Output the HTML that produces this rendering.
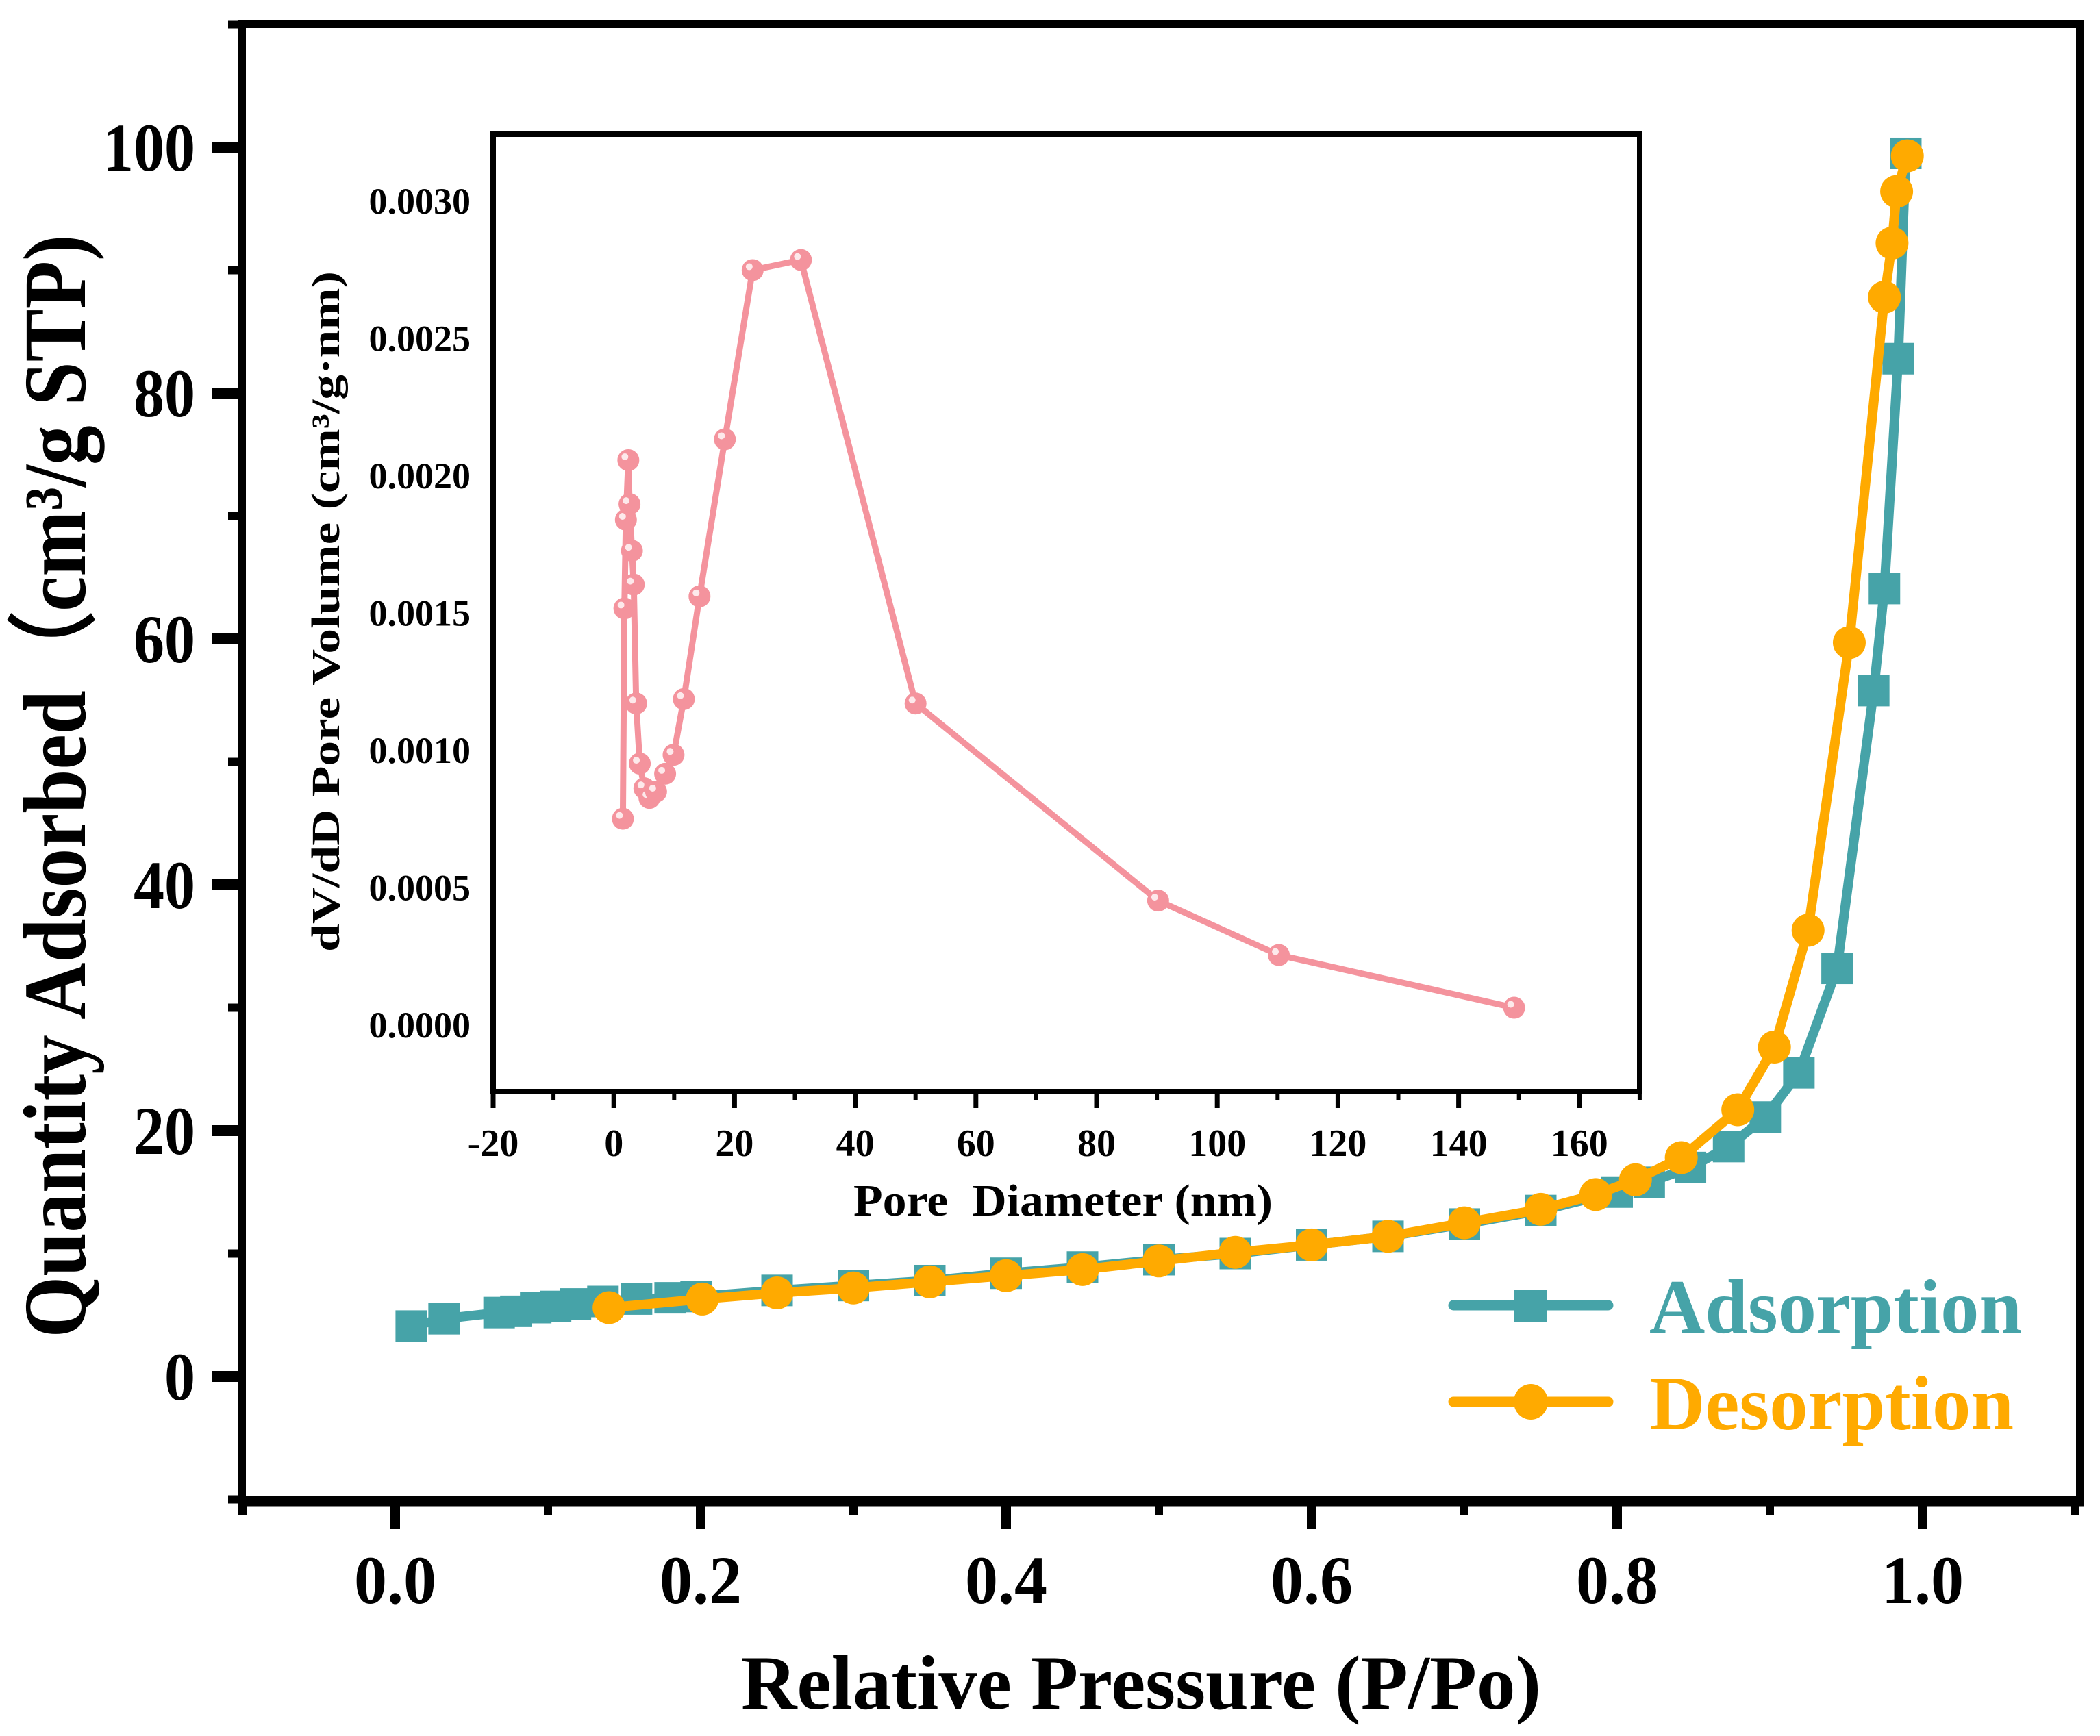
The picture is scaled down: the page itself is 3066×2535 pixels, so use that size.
<!DOCTYPE html>
<html><head><meta charset="utf-8"><style>
html,body{margin:0;padding:0;background:#fff}
svg{display:block}
text{font-family:"Liberation Serif",serif;font-weight:bold}
</style></head><body>
<svg id="chart" width="3066" height="2535" viewBox="0 0 3066 2535" xmlns="http://www.w3.org/2000/svg">
<g id="main-marks"></g><g id="inset"></g><g id="frames"></g><g id="labels"></g>
</svg>
<script>
// Main chart data
const adsX = [0.0105,0.032,0.068,0.079,0.092,0.105,0.118,0.136,0.158,0.180,0.197,0.25,0.30,0.35,0.40,0.45,0.50,0.55,0.60,0.65,0.70,0.75,0.80,0.821,0.848,0.873,0.897,0.919,0.944,0.968,0.975,0.984,0.989];
const adsY = [4.1,4.7,5.2,5.3,5.6,5.7,5.9,6.1,6.3,6.4,6.5,7.0,7.4,7.8,8.4,8.9,9.5,10.0,10.7,11.4,12.4,13.5,15.0,15.8,17.0,18.7,21.1,24.7,33.2,55.8,64.1,82.8,99.5];
const desX = [0.140,0.201,0.25,0.30,0.35,0.40,0.45,0.50,0.55,0.60,0.65,0.70,0.75,0.786,0.812,0.842,0.879,0.903,0.925,0.952,0.975,0.980,0.983,0.990];
const desY = [5.6,6.3,6.8,7.2,7.7,8.2,8.7,9.4,10.1,10.7,11.4,12.5,13.6,14.8,16.0,17.8,21.7,26.8,36.3,59.7,87.8,92.2,96.4,99.3];
const xTicks = ["0.0","0.2","0.4","0.6","0.8","1.0"];
const yTicks = ["0","20","40","60","80","100"];
// Inset data
const poreD = [1.5,1.75,2.0,2.4,2.6,3.0,3.3,3.7,4.3,5.06,5.9,7.0,8.5,9.9,11.6,14.2,18.4,23.0,31.0,50.0,90.2,110.2,149.2];
const poreV = [0.000749,0.001515,0.001838,0.002055,0.001895,0.001725,0.001602,0.001169,0.00095,0.00086,0.000825,0.000848,0.000913,0.000982,0.001185,0.001559,0.002131,0.002747,0.002784,0.001169,0.000451,0.000253,0.000061];
const insetXTicks = ["-20","0","20","40","60","80","100","120","140","160"];
const insetYTicks = ["0.0000","0.0005","0.0010","0.0015","0.0020","0.0025","0.0030"];

const NS="http://www.w3.org/2000/svg";
function mk(tag,attrs,parent,txt){const e=document.createElementNS(NS,tag);for(const k in attrs)e.setAttribute(k,attrs[k]);if(txt!==undefined)e.textContent=txt;parent.appendChild(e);return e;}
const X=v=>577+(v-0)*2230;
const Y=v=>2010-v*17.95;
const IX=v=>720+(v+20)*8.81;
const IY=v=>1496-v*401000;
const gm=document.getElementById('main-marks'), gi=document.getElementById('inset'), gf=document.getElementById('frames'), gl=document.getElementById('labels');
const TEAL="#46a3a8", ORANGE="#ffaa00", PINK="#f4939d";

let p=mk('polyline',{points:adsX.map((x,i)=>X(x)+','+Y(adsY[i])).join(' '),fill:'none',stroke:TEAL,'stroke-width':14,'stroke-linejoin':'round'},gm);

adsX.forEach((x,i)=>{const r=mk('rect',{x:X(x)-23,y:Y(adsY[i])-23,width:46,height:46,fill:TEAL},gm);

});
p=mk('polyline',{points:desX.map((x,i)=>X(x)+','+Y(desY[i])).join(' '),fill:'none',stroke:ORANGE,'stroke-width':14,'stroke-linejoin':'round'},gm);

desX.forEach((x,i)=>{const c=mk('circle',{cx:X(x),cy:Y(desY[i]),r:24,fill:ORANGE},gm);

});

mk('rect',{x:720,y:196,width:1674,height:1398,fill:'none',stroke:'#000','stroke-width':8},gi);
p=mk('polyline',{points:poreD.map((x,i)=>IX(x)+','+IY(poreV[i])).join(' '),fill:'none',stroke:PINK,'stroke-width':9,'stroke-linejoin':'round'},gi);

poreD.forEach((x,i)=>{const c=mk('circle',{cx:IX(x),cy:IY(poreV[i]),r:16,fill:PINK},gi);


mk('circle',{cx:IX(x)-5,cy:IY(poreV[i])-5,r:5,fill:'#fff',opacity:0.8},gi);});
insetXTicks.forEach((t,i)=>{const v=-20+i*20;const x=IX(v);
mk('line',{x1:x,y1:1594,x2:x,y2:1618,stroke:'#000','stroke-width':7},gi);
mk('line',{x1:IX(v+10),y1:1594,x2:IX(v+10),y2:1606,stroke:'#000','stroke-width':6},gi);
const tx=mk('text',{x:x,y:1688,'font-size':56,'text-anchor':'middle'},gi,t);
});
insetYTicks.forEach((t,i)=>{const v=i*0.0005;
const tx=mk('text',{x:687,y:IY(v)+19,'font-size':54,'text-anchor':'end'},gi,t);
});
let tt=mk('text',{x:1552,y:1775,'font-size':66,'text-anchor':'middle',textLength:612,lengthAdjust:'spacingAndGlyphs'},gi,'Pore\u00a0 Diameter (nm)');

tt=mk('text',{x:0,y:0,'font-size':58,'text-anchor':'middle',textLength:994,lengthAdjust:'spacingAndGlyphs',transform:'translate(495,893) rotate(-90)'},gi,'dV/dD Pore Volume (cm³/g·nm)');


mk('rect',{x:353,y:35,width:2684,height:2157,fill:'none',stroke:'#000','stroke-width':12},gf);
mk('line',{x1:347,y1:2192,x2:3043,y2:2192,stroke:'#000','stroke-width':15},gf);
for(let v=-0.1;v<=1.101;v+=0.1){const x=X(v);const major=Math.abs(Math.round(v*10)%2)===0;
mk('line',{x1:x,y1:2192,x2:x,y2:major?2233:2212,stroke:'#000','stroke-width':major?14:12},gf);}
for(let v=-10;v<=110;v+=10){const y=Y(v);const major=(v%20===0);
mk('line',{x1:major?310:333,y1:y,x2:353,y2:y,stroke:'#000','stroke-width':major?16:12},gf);}
xTicks.forEach((t,i)=>{const tx=mk('text',{x:X(i*0.2),y:2341,'font-size':100,'text-anchor':'middle',textLength:120,lengthAdjust:'spacingAndGlyphs'},gl,t);
});
yTicks.forEach((t,i)=>{const tx=mk('text',{x:285,y:Y(i*20)+34,'font-size':100,'text-anchor':'end',textLength:t.length*45,lengthAdjust:'spacingAndGlyphs'},gl,t);
});
tt=mk('text',{x:1666,y:2495,'font-size':112,'text-anchor':'middle',textLength:1168,lengthAdjust:'spacingAndGlyphs'},gl,'Relative Pressure (P/Po)');

tt=mk('text',{x:0,y:0,'font-size':130,'text-anchor':'middle',textLength:1611,lengthAdjust:'spacingAndGlyphs',transform:'translate(124,1148) rotate(-90)'},gl,'Quantity Adsorbed（cm³/g STP)');


const lg=mk('g',{},gl);

mk('line',{x1:2122,y1:1906,x2:2348,y2:1906,stroke:TEAL,'stroke-width':15,'stroke-linecap':'round'},lg);
mk('rect',{x:2211,y:1883,width:48,height:47,fill:TEAL},lg);
tt=mk('text',{x:2408,y:1946,'font-size':112,fill:TEAL,textLength:544,lengthAdjust:'spacingAndGlyphs'},lg,'Adsorption');

mk('line',{x1:2122,y1:2047,x2:2348,y2:2047,stroke:ORANGE,'stroke-width':15,'stroke-linecap':'round'},lg);
mk('ellipse',{cx:2235,cy:2047,rx:25,ry:26,fill:ORANGE},lg);
tt=mk('text',{x:2408,y:2087,'font-size':112,fill:ORANGE,textLength:532,lengthAdjust:'spacingAndGlyphs'},lg,'Desorption');

</script>
</body></html>
